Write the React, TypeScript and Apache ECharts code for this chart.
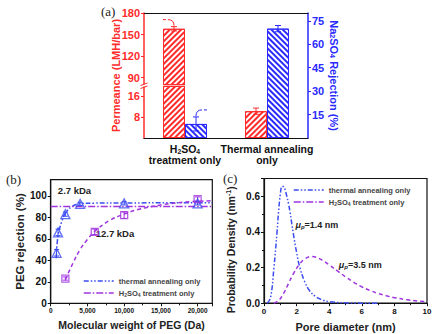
import React, { useEffect, useRef } from 'react';
import * as echarts from 'echarts';

// ---------- data: panel (a) ----------
const barCategories = ['H2SO4\ntreatment only', 'Thermal annealing\nonly'];
const permeance = [158, 10.3];
const permeanceErr = [3, 1.2];
const rejection = [9, 70];
const rejectionErr = [4.5, 2];
const permUpperTicks = [90, 120, 150, 180];
const permLowerTicks = [8, 16];
const rejTicks = [15, 30, 45, 60, 75];

// ---------- data: panel (b) ----------
const pegThermal = [[800, 47], [1000, 66], [2000, 83], [4000, 92.5], [10000, 93], [20000, 93]];
const pegThermalErr = [3, 3, 2, 1.5, 1.5, 1.5];
const pegAcid = [[2000, 23], [6000, 66.5], [10000, 82], [20000, 97]];
const pegAcidErr = [1.5, 2.5, 3, 2];
const pegThermalFit = [[750, 42], [1000, 63], [1500, 76], [2000, 84], [3000, 90.5], [4000, 92.6], [6000, 93.2], [10000, 93.4], [22000, 93.5]];
const pegAcidFit = [[2000, 22], [3000, 37], [4000, 50], [5000, 59.5], [6000, 67], [8000, 77], [10000, 83], [12000, 87.5], [15000, 91.5], [18000, 94], [22000, 95.5]];
const pegCutoff = 90;
const pegNotes = [{ x: 3240, y: 105, text: '2.7 kDa' }, { x: 8750, y: 65, text: '12.7 kDa' }];

// ---------- data: panel (c) ----------
const psdThermal = [[0.2, 0], [0.4, 0.03], [0.6, 0.19], [0.8, 0.4], [0.9, 0.52], [1.0, 0.61], [1.1, 0.655], [1.2, 0.655], [1.3, 0.635], [1.4, 0.6], [1.5, 0.56], [1.6, 0.51], [1.8, 0.39], [2.0, 0.285], [2.2, 0.2], [2.5, 0.12], [2.8, 0.07], [3.2, 0.035], [3.6, 0.018], [4, 0.009], [5, 0.002], [7, 0]];
const psdAcid = [[0.6, 0], [0.9, 0.015], [1.2, 0.055], [1.5, 0.11], [1.8, 0.165], [2.2, 0.222], [2.5, 0.248], [2.9, 0.262], [3.2, 0.258], [3.6, 0.24], [4.0, 0.215], [4.6, 0.175], [5.0, 0.148], [5.5, 0.118], [6.0, 0.092], [6.5, 0.072], [7.0, 0.055], [7.5, 0.042], [8.0, 0.031], [8.8, 0.019], [9.4, 0.013], [10, 0.009]];
const psdNotes = [{ x: 1.9, y: 0.44, mu: '1.4' }, { x: 4.56, y: 0.215, mu: '3.5' }];

const seriesNames = ['thermal annealing only', 'H2SO4 treatment only'];

// ---------- styles ----------
const FONT = "'Liberation Sans', Arial, sans-serif";
const SERIF = "'Liberation Serif', 'Times New Roman', serif";
const RED = '#ff2b2b';
const BLUE = '#2a2aff';
const PURPLE = '#a035e0';
const LBLUE = '#3a4cf0';
const DDOT = [5, 2, 1.5, 2, 1.5, 2];
const DDASHDOT = [7, 2, 1.5, 2];
const DASH = [4, 3];

function chem(s: string, n = 'n', sub = 's') {
  return s
    .split('\n')
    .map((line) =>
      line
        .split(/(H2SO4|Na2SO4)/)
        .filter((p) => p)
        .map((p) => {
          if (p === 'H2SO4') return `{${n}|H}{${sub}|2}{${n}|SO}{${sub}|4}`;
          if (p === 'Na2SO4') return `{${n}|Na}{${sub}|2}{${n}|SO}{${sub}|4}`;
          return `{${n}|${p}}`;
        })
        .join('')
    )
    .join('\n');
}

function richPair(size: number, color: string) {
  return {
    n: { fontSize: size, fontWeight: 'bold', fontFamily: FONT, color, lineHeight: size + 1 },
    s: { fontSize: size * 0.65, fontWeight: 'bold', fontFamily: FONT, color, lineHeight: size * 0.55, verticalAlign: 'bottom' },
  };
}

function hatch(color: string, rot: number) {
  return {
    symbol: 'rect',
    symbolSize: 1,
    color,
    backgroundColor: '#ffffff',
    dashArrayX: [1, 0],
    dashArrayY: [1.3, 1.6],
    rotation: rot,
  };
}

function errRender(offset: number, color: string, hook: number, cap: number) {
  return (params: any, api: any) => {
    const x = api.value(0);
    const y = api.value(1);
    const e = api.value(2);
    const c = api.coord([x, y]);
    const hi = api.coord([x, y + e]);
    const lo = api.coord([x, y - e]);
    const px = c[0] + offset;
    const st = { stroke: color, lineWidth: 1 };
    const children: any[] = [
      { type: 'line', shape: { x1: px, y1: hi[1], x2: px, y2: lo[1] }, style: st },
      { type: 'line', shape: { x1: px - cap, y1: hi[1], x2: px + cap, y2: hi[1] }, style: st },
      { type: 'line', shape: { x1: px - cap, y1: lo[1], x2: px + cap, y2: lo[1] }, style: st },
    ];
    if (hook !== 0 && params.dataIndex === 0) {
      children.push({
        type: 'bezierCurve',
        shape: { x1: px, y1: hi[1] - 1, cpx1: px, cpy1: hi[1] - 7, x2: px + hook * 6, y2: hi[1] - 7 },
        style: { stroke: color, lineWidth: 1, fill: null },
      });
      children.push({
        type: 'line',
        shape: { x1: px + hook * 8, y1: hi[1] - 7, x2: px + hook * 11, y2: hi[1] - 7 },
        style: st,
      });
    }
    return { type: 'group', children };
  };
}

const axisLine = (color: string, w = 1.2) => ({ show: true, lineStyle: { color, width: w } });
const noMarker = { color: 'rgba(0,0,0,0)', borderColor: 'rgba(0,0,0,0)', borderWidth: 0 };

function buildOption(): any {
  const upperMin = 80;
  const redUpper = permeance.map((v) => (v >= upperMin ? v : '-'));
  const errRedUpper = permeance.map((v, i) => [i, v, permeanceErr[i]]).filter((d) => d[1] >= upperMin);
  const errRedLower = permeance.map((v, i) => [i, v, permeanceErr[i]]).filter((d) => d[1] < upperMin);
  const errBlue = rejection.map((v, i) => [i, v, rejectionErr[i]]);
  const emptyBars = barCategories.map(() => '-');

  const richA = richPair(10.5, '#111');
  const richRight = richPair(11, BLUE);
  const richLeg = {
    n: { fontSize: 7.5, fontWeight: 'bold', fontFamily: FONT, color: '#444', lineHeight: 9 },
    s: { fontSize: 5, fontWeight: 'bold', fontFamily: FONT, color: '#444', lineHeight: 4, verticalAlign: 'bottom' },
  };
  const richMu = {
    i: { fontSize: 9, fontWeight: 'bold', fontStyle: 'italic', fontFamily: FONT, color: '#222', lineHeight: 10 },
    p: { fontSize: 6, fontWeight: 'bold', fontStyle: 'italic', fontFamily: FONT, color: '#222', lineHeight: 5, verticalAlign: 'bottom' },
    n: { fontSize: 9, fontWeight: 'bold', fontFamily: FONT, color: '#222', lineHeight: 10 },
  };

  const legendCommon = {
    orient: 'vertical',
    itemWidth: 30,
    itemHeight: 6,
    itemGap: 4,
    itemStyle: noMarker,
    textStyle: { fontSize: 7.5, fontWeight: 'bold', color: '#444', fontFamily: FONT, rich: richLeg },
    formatter: (name: string) => chem(name),
    data: [
      { name: seriesNames[0], itemStyle: noMarker, lineStyle: { type: DDOT, color: LBLUE, width: 1.5 } },
      { name: seriesNames[1], itemStyle: noMarker, lineStyle: { type: DDASHDOT, color: PURPLE, width: 1.5 } },
    ],
  };

  return {
    animation: false,
    backgroundColor: '#ffffff',
    textStyle: { fontFamily: FONT },
    grid: [
      { left: 144, top: 13, width: 164, height: 125 },
      { left: 144, top: 13, width: 164, height: 71.7 },
      { left: 144, top: 86.5, width: 164, height: 51.5 },
      { left: 50.7, top: 179.7, width: 161.6, height: 123.6, show: true, borderColor: '#111', borderWidth: 1.2 },
      { left: 264, top: 178.5, width: 163, height: 124.7, show: true, borderColor: '#111', borderWidth: 1.2 },
    ],
    legend: [
      { ...legendCommon, left: 78, top: 272 },
      { ...legendCommon, left: 288, top: 181 },
    ],
    xAxis: [
      {
        gridIndex: 0, type: 'category', data: barCategories, position: 'bottom',
        axisLine: axisLine('#111'), axisTick: { show: false },
        axisLabel: { margin: 5, formatter: (v: string) => chem(v), rich: richA, interval: 0 },
      },
      {
        gridIndex: 1, type: 'category', data: barCategories, position: 'top',
        axisLine: axisLine('#111'), axisTick: { show: false }, axisLabel: { show: false },
      },
      { gridIndex: 2, type: 'category', data: barCategories, show: false },
      {
        gridIndex: 3, type: 'value', min: 0, max: 22000, interval: 5000,
        axisLine: axisLine('#111'), splitLine: { show: false },
        axisTick: { show: true, length: 3, lineStyle: { color: '#111' } },
        minorTick: { show: true, splitNumber: 2, length: 2, lineStyle: { color: '#111' } },
        axisLabel: { fontSize: 6.5, fontWeight: 'bold', color: '#111', margin: 4, showMaxLabel: false },
        name: 'Molecular weight of PEG (Da)', nameLocation: 'middle', nameGap: 16,
        nameTextStyle: { fontSize: 10.5, fontWeight: 'bold', color: '#222', fontFamily: FONT },
      },
      {
        gridIndex: 4, type: 'value', min: 0, max: 10, interval: 2,
        axisLine: axisLine('#111'), splitLine: { show: false },
        axisTick: { show: true, length: 3, lineStyle: { color: '#111' } },
        minorTick: { show: true, splitNumber: 2, length: 2, lineStyle: { color: '#111' } },
        axisLabel: { fontSize: 8, fontWeight: 'bold', color: '#111', margin: 4 },
        name: 'Pore diameter (nm)', nameLocation: 'middle', nameGap: 18,
        nameTextStyle: { fontSize: 11, fontWeight: 'bold', color: '#222', fontFamily: FONT },
      },
    ],
    yAxis: [
      {
        gridIndex: 0, type: 'value', position: 'right', min: 0, max: 80,
        axisLine: axisLine(BLUE, 1.5), splitLine: { show: false },
        axisTick: { show: true, length: 3, customValues: rejTicks, lineStyle: { color: BLUE } },
        axisLabel: { customValues: rejTicks, fontSize: 11, fontWeight: 'bold', color: BLUE, margin: 4 },
        name: chem('Na2SO4 Rejection (%)'), nameLocation: 'middle', nameRotate: -90, nameGap: 18,
        nameTextStyle: { fontSize: 11, fontWeight: 'bold', color: BLUE, fontFamily: FONT, rich: richRight },
      },
      {
        gridIndex: 1, type: 'value', position: 'left', min: upperMin, max: 180,
        axisLine: axisLine(RED, 1.5), splitLine: { show: false },
        axisTick: { show: true, length: 3, customValues: permUpperTicks, lineStyle: { color: RED } },
        axisLabel: { customValues: permUpperTicks, fontSize: 11, fontWeight: 'bold', color: RED, margin: 4 },
      },
      {
        gridIndex: 2, type: 'value', position: 'left', min: 0, max: 19.8,
        axisLine: axisLine(RED, 1.5), splitLine: { show: false },
        axisTick: { show: true, length: 3, customValues: permLowerTicks, lineStyle: { color: RED } },
        axisLabel: { customValues: permLowerTicks, fontSize: 11, fontWeight: 'bold', color: RED, margin: 4 },
      },
      {
        gridIndex: 3, type: 'value', min: 0, max: 115, interval: 20,
        axisLine: axisLine('#111'), splitLine: { show: false },
        axisTick: { show: true, length: 3, lineStyle: { color: '#111' } },
        axisLabel: { fontSize: 10, fontWeight: 'bold', color: '#111', margin: 4, showMaxLabel: false },
        name: 'PEG rejection (%)', nameLocation: 'middle', nameGap: 23,
        nameTextStyle: { fontSize: 11.5, fontWeight: 'bold', color: '#222', fontFamily: FONT },
      },
      {
        gridIndex: 4, type: 'value', min: 0, max: 0.7, interval: 0.2,
        axisLine: axisLine('#111'), splitLine: { show: false },
        axisTick: { show: true, length: 3, lineStyle: { color: '#111' } },
        minorTick: { show: true, splitNumber: 2, length: 2, lineStyle: { color: '#111' } },
        axisLabel: { fontSize: 10, fontWeight: 'bold', color: '#111', margin: 4, showMaxLabel: false, formatter: (v: number) => v.toFixed(1) },
        name: '{n|Probability Density (nm}{u|-1}{n|)}', nameLocation: 'middle', nameGap: 27,
        nameTextStyle: {
          fontSize: 10.5, fontWeight: 'bold', color: '#222', fontFamily: FONT, padding: [0, 18, 0, 0],
          rich: {
            n: { fontSize: 10.5, fontWeight: 'bold', color: '#222', fontFamily: FONT, lineHeight: 12 },
            u: { fontSize: 7, fontWeight: 'bold', color: '#222', fontFamily: FONT, lineHeight: 6, verticalAlign: 'top' },
          },
        },
      },
      {
        gridIndex: 0, type: 'value', position: 'left', min: 0, max: 1,
        axisLine: { show: false }, axisTick: { show: false }, axisLabel: { show: false }, splitLine: { show: false },
        name: 'Permeance (LMH/bar)', nameLocation: 'middle', nameGap: 23,
        nameTextStyle: { fontSize: 11, fontWeight: 'bold', color: RED, fontFamily: FONT },
      },
    ],
    graphic: [
      { type: 'text', left: 101, top: 5, style: { text: '(a)', fontSize: 13, fontFamily: SERIF, fill: '#222' } },
      { type: 'text', left: 6, top: 173, style: { text: '(b)', fontSize: 13, fontFamily: SERIF, fill: '#222' } },
      { type: 'text', left: 223, top: 172, style: { text: '(c)', fontSize: 13, fontFamily: SERIF, fill: '#222' } },
      { type: 'rect', shape: { x: 140, y: 84.5, width: 8, height: 2 }, style: { fill: '#fff' }, z: 100 },
      { type: 'line', shape: { x1: 140.5, y1: 85.5, x2: 147.5, y2: 83 }, style: { stroke: RED, lineWidth: 1 }, z: 101 },
      { type: 'line', shape: { x1: 140.5, y1: 88.5, x2: 147.5, y2: 86 }, style: { stroke: RED, lineWidth: 1 }, z: 101 },
    ],
    series: [
      // panel (a) blue rejection bars on full grid
      { type: 'bar', xAxisIndex: 0, yAxisIndex: 0, data: emptyBars, barWidth: 22, barGap: '0%' },
      {
        type: 'bar', name: 'Na2SO4 rejection', xAxisIndex: 0, yAxisIndex: 0, data: rejection, barWidth: 22, barGap: '0%',
        itemStyle: { color: '#ffffff', borderColor: BLUE, borderWidth: 1, decal: hatch(BLUE, Math.PI / 4) },
      },
      // panel (a) red permeance bars, upper segment
      {
        type: 'bar', name: 'Permeance', xAxisIndex: 1, yAxisIndex: 1, data: redUpper, barWidth: 22, barGap: '0%', clip: true,
        itemStyle: { color: '#ffffff', borderColor: RED, borderWidth: 1, decal: hatch(RED, -Math.PI / 4) },
      },
      { type: 'bar', xAxisIndex: 1, yAxisIndex: 1, data: emptyBars, barWidth: 22, barGap: '0%' },
      // panel (a) red permeance bars, lower segment
      {
        type: 'bar', name: 'Permeance low', xAxisIndex: 2, yAxisIndex: 2, data: permeance, barWidth: 22, barGap: '0%', clip: true,
        itemStyle: { color: '#ffffff', borderColor: RED, borderWidth: 1, decal: hatch(RED, -Math.PI / 4) },
      },
      { type: 'bar', xAxisIndex: 2, yAxisIndex: 2, data: emptyBars, barWidth: 22, barGap: '0%' },
      // panel (a) error bars
      { type: 'custom', xAxisIndex: 1, yAxisIndex: 1, data: errRedUpper, encode: { x: 0, y: 1 }, renderItem: errRender(-11, RED, -1, 3), z: 10 },
      { type: 'custom', xAxisIndex: 2, yAxisIndex: 2, data: errRedLower, encode: { x: 0, y: 1 }, renderItem: errRender(-11, RED, 0, 3), z: 10 },
      { type: 'custom', xAxisIndex: 0, yAxisIndex: 0, data: errBlue, encode: { x: 0, y: 1 }, renderItem: errRender(11, BLUE, 1, 3), z: 10 },

      // panel (b)
      {
        type: 'line', name: seriesNames[0], xAxisIndex: 3, yAxisIndex: 3, data: pegThermalFit, smooth: 0.4, symbol: 'none',
        lineStyle: { color: LBLUE, width: 1.5, type: DDOT },
      },
      {
        type: 'line', name: seriesNames[1], xAxisIndex: 3, yAxisIndex: 3, data: pegAcidFit, smooth: 0.4, symbol: 'none',
        lineStyle: { color: PURPLE, width: 1.5, type: DASH },
        markLine: {
          silent: true, symbol: 'none', label: { show: false },
          lineStyle: { color: PURPLE, width: 1.3, type: DDASHDOT },
          data: [{ yAxis: pegCutoff }],
        },
      },
      {
        type: 'custom', xAxisIndex: 3, yAxisIndex: 3, encode: { x: 0, y: 1 },
        data: pegThermal.map((d, i) => [d[0], d[1], pegThermalErr[i]]), renderItem: errRender(0, LBLUE, 0, 2.5), z: 5,
      },
      {
        type: 'custom', xAxisIndex: 3, yAxisIndex: 3, encode: { x: 0, y: 1 },
        data: pegAcid.map((d, i) => [d[0], d[1], pegAcidErr[i]]), renderItem: errRender(0, PURPLE, 0, 2.5), z: 5,
      },
      {
        type: 'scatter', name: 'thermal pts', xAxisIndex: 3, yAxisIndex: 3, data: pegThermal, symbol: 'triangle', symbolSize: 9,
        itemStyle: { color: 'rgba(255,255,255,0)', borderColor: LBLUE, borderWidth: 1.3 }, z: 6,
        markPoint: {
          symbol: 'circle', symbolSize: 1, itemStyle: { color: 'rgba(0,0,0,0)' },
          label: { show: true, position: 'inside', formatter: (p: any) => p.name, fontSize: 9.5, fontWeight: 'bold', color: '#222', fontFamily: FONT },
          data: pegNotes.map((n) => ({ name: n.text, coord: [n.x, n.y] })),
        },
      },
      {
        type: 'scatter', name: 'acid pts', xAxisIndex: 3, yAxisIndex: 3, data: pegAcid, symbol: 'rect', symbolSize: 7,
        itemStyle: { color: 'rgba(255,255,255,0)', borderColor: PURPLE, borderWidth: 1.3 }, z: 6,
      },

      // panel (c)
      {
        type: 'line', name: seriesNames[0], xAxisIndex: 4, yAxisIndex: 4, data: psdThermal, smooth: 0.4, symbol: 'none',
        lineStyle: { color: LBLUE, width: 1.5, type: DDOT },
        markPoint: {
          symbol: 'circle', symbolSize: 1, itemStyle: { color: 'rgba(0,0,0,0)' },
          label: { show: true, position: 'right', distance: 0, formatter: (p: any) => `{i|μ}{p|p}{n|=${p.name} nm}`, rich: richMu },
          data: psdNotes.map((n) => ({ name: n.mu, coord: [n.x, n.y] })),
        },
      },
      {
        type: 'line', name: seriesNames[1], xAxisIndex: 4, yAxisIndex: 4, data: psdAcid, smooth: 0.4, symbol: 'none',
        lineStyle: { color: PURPLE, width: 1.5, type: DASH },
      },
    ],
  };
}

export default function App() {
  const ref = useRef<HTMLDivElement>(null);
  useEffect(() => {
    document.body.style.margin = '0';
    const chart = echarts.init(ref.current as HTMLDivElement, null, { renderer: 'svg' });
    chart.setOption(buildOption());
    return () => chart.dispose();
  }, []);
  return <div ref={ref} style={{ width: 440, height: 334 }} />;
}
